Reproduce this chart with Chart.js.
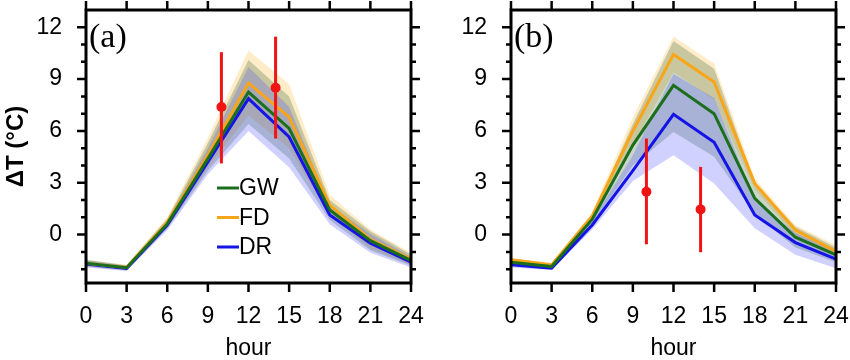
<!DOCTYPE html>
<html>
<head>
<meta charset="utf-8">
<script src="https://cdn.jsdelivr.net/npm/chart.js@4/dist/chart.umd.min.js"></script>
<style>
  body { margin: 0; background: #fff; }
  .panel { position: absolute; top: 0; width: 425px; height: 360px; }
</style>
</head>
<body>
<div class="panel" style="left:0"><canvas id="chartA" width="425" height="360"></canvas></div>
<div class="panel" style="left:425px"><canvas id="chartB" width="425" height="360"></canvas></div>
<script>
const hours = [0, 3, 6, 9, 12, 15, 18, 21, 24];
const yTicks = [0, 3, 6, 9, 12];
const yMinor = [-2, -1, 1, 2, 4, 5, 7, 8, 10, 11];
const names = ['GW', 'FD', 'DR'];

// panel (a)
const gwA   = [-1.65, -1.92, 0.62, 4.4, 8.25, 6.15, 1.43, -0.35, -1.5];
const fdA   = [-1.65, -1.9, 0.72, 4.6, 8.77, 6.8, 1.71, -0.27, -1.42];
const drA   = [-1.7, -1.95, 0.55, 4.2, 7.87, 5.65, 1.14, -0.5, -1.6];
const gwHiA = [-1.45, -1.77, 0.92, 5.3, 10.1, 8.0, 2.0, 0.2, -1.15];
const gwLoA = [-1.85, -2.07, 0.35, 3.7, 6.4, 4.4, 0.85, -0.9, -1.8];
const fdHiA = [-1.45, -1.75, 1.0, 5.6, 10.65, 8.7, 2.3, 0.3, -1.07];
const fdLoA = [-1.85, -2.05, 0.45, 3.9, 6.9, 5.0, 1.1, -0.8, -1.75];
const drHiA = [-1.5, -1.8, 0.85, 5.0, 9.7, 7.4, 1.7, 0.05, -1.3];
const drLoA = [-1.9, -2.1, 0.25, 3.5, 6.0, 3.9, 0.6, -1.05, -1.9];

// panel (b)
const gwB   = [-1.6, -1.85, 0.89, 5.18, 8.64, 7.0, 2.1, -0.15, -1.17];
const fdB   = [-1.46, -1.75, 1.08, 6.0, 10.43, 8.83, 2.96, 0.27, -0.98];
const drB   = [-1.75, -1.94, 0.56, 3.7, 6.96, 5.35, 1.14, -0.46, -1.42];
const gwHiB = [-1.45, -1.75, 1.1, 6.4, 11.2, 9.6, 3.0, 0.45, -0.75];
const gwLoB = [-1.75, -1.95, 0.65, 4.0, 5.94, 4.5, 1.2, -0.75, -1.6];
const fdHiB = [-1.35, -1.65, 1.3, 6.8, 11.47, 9.9, 3.25, 0.56, -0.6];
const fdLoB = [-1.6, -1.85, 0.85, 5.2, 9.4, 7.8, 2.6, -0.05, -1.3];
const drHiB = [-1.6, -1.85, 0.8, 4.6, 9.3, 7.9, 2.0, 0.1, -1.0];
const drLoB = [-1.9, -2.05, 0.3, 3.1, 4.6, 2.96, 0.37, -1.17, -1.94];

// observations (red dots with bars)
const obsHours = [10, 14];
const obsA   = [7.39, 8.5];
const obsLoA = [4.12, 5.56];
const obsHiA = [10.56, 11.46];
const obsB   = [2.48, 1.46];
const obsLoB = [-0.56, -1.02];
const obsHiB = [5.56, 3.92];

const lineColors = { GW: '#1b6e1b', FD: '#f9a51a', DR: '#1414e6' };
const bandColors = { GW: 'rgba(40,90,40,0.25)', FD: 'rgba(255,180,40,0.25)', DR: 'rgba(70,70,255,0.25)' };
const red = '#f01414';

function pts(ys) {
  return hours.map((h, i) => ({ x: h, y: ys[i] }));
}

function noPad(s) {
  s.paddingTop = 0; s.paddingBottom = 0; s.paddingLeft = 0; s.paddingRight = 0;
}

// frame, outward ticks, panel letter and legend
const framePlugin = {
  id: 'frame',
  afterDraw(chart) {
    const { ctx, chartArea: a, scales: { x, y } } = chart;
    ctx.save();
    ctx.strokeStyle = '#000';
    ctx.lineWidth = 2.5;
    ctx.beginPath();
    hours.forEach(h => {
      const px = x.getPixelForValue(h);
      ctx.moveTo(px, a.top); ctx.lineTo(px, a.top - 9);
      ctx.moveTo(px, a.bottom); ctx.lineTo(px, a.bottom + 9);
    });
    yTicks.forEach(v => {
      const py = y.getPixelForValue(v);
      ctx.moveTo(a.left, py); ctx.lineTo(a.left - 9, py);
      ctx.moveTo(a.right, py); ctx.lineTo(a.right + 9, py);
    });
    yMinor.forEach(v => {
      const py = y.getPixelForValue(v);
      ctx.moveTo(a.left, py); ctx.lineTo(a.left - 5, py);
      ctx.moveTo(a.right, py); ctx.lineTo(a.right + 5, py);
    });
    ctx.stroke();
    ctx.lineWidth = 3;
    ctx.strokeRect(a.left, a.top, a.right - a.left, a.bottom - a.top);
    ctx.fillStyle = '#000';
    ctx.font = '34px "Liberation Serif"';
    ctx.textBaseline = 'middle';
    ctx.fillText(chart.options.plugins.frame.tag, a.left + 3, a.top + 28);
    if (chart.options.plugins.frame.legend) {
      ctx.font = '23px "Liberation Sans"';
      ctx.lineWidth = 3;
      names.forEach((n, i) => {
        const ly = 188 + i * 29.5;
        ctx.strokeStyle = lineColors[n];
        ctx.beginPath(); ctx.moveTo(217, ly); ctx.lineTo(239, ly); ctx.stroke();
        ctx.fillText(n, 239, ly + 1);
      });
    }
    ctx.restore();
  }
};

function makeChart(id, tag, series, bands, obs, obsLo, obsHi, showLegend, showYTitle) {
  const datasets = [];
  obsHours.forEach((h, i) => {
    datasets.push({ data: [{ x: h, y: obsLo[i] }, { x: h, y: obsHi[i] }],
      borderColor: red, borderWidth: 3, pointRadius: 0, fill: false });
  });
  datasets.push({ data: obsHours.map((h, i) => ({ x: h, y: obs[i] })), showLine: false,
    pointRadius: 5, pointBackgroundColor: red, pointBorderWidth: 0 });
  names.forEach(n => {
    datasets.push({ label: n, data: pts(series[n]), borderColor: lineColors[n],
      borderWidth: 3, pointRadius: 0, fill: false, tension: 0 });
  });
  ['DR', 'GW', 'FD'].forEach(n => {
    datasets.push({ data: pts(bands[n][0]), borderWidth: 0, pointRadius: 0,
      backgroundColor: bandColors[n], fill: '+1' });
    datasets.push({ data: pts(bands[n][1]), borderWidth: 0, pointRadius: 0, fill: false });
  });

  return new Chart(document.getElementById(id), {
    type: 'line',
    data: { datasets },
    options: {
      responsive: false,
      animation: false,
      layout: { padding: { top: 10, right: 14, left: 0, bottom: 0 } },
      plugins: { legend: { display: false }, tooltip: { enabled: false },
        frame: { tag, legend: showLegend } },
      scales: {
        x: {
          type: 'linear', min: 0, max: 24,
          afterBuildTicks: s => { s.ticks = hours.map(v => ({ value: v })); },
          afterFit: s => { s.height = 77; noPad(s); },
          grid: { display: false, drawTicks: false },
          border: { display: false },
          ticks: { color: '#000', padding: 20, font: { family: 'Liberation Sans', size: 23 }, maxRotation: 0 },
          title: { display: true, text: 'hour', color: '#000', padding: 0,
            font: { family: 'Liberation Sans', size: 23, lineHeight: 1 } }
        },
        y: {
          min: -2.8, max: 13,
          afterBuildTicks: s => { s.ticks = yTicks.map(v => ({ value: v })); },
          afterFit: s => { s.width = 86; noPad(s); },
          grid: { display: false, drawTicks: false },
          border: { display: false },
          ticks: { color: '#000', padding: 24, font: { family: 'Liberation Sans', size: 23 } },
          title: { display: showYTitle, text: 'ΔT (°C)', color: '#000', padding: { top: 2 },
            font: { family: 'Liberation Sans', size: 24, weight: 'bold' } }
        }
      }
    },
    plugins: [framePlugin]
  });
}

makeChart('chartA', '(a)', { GW: gwA, FD: fdA, DR: drA },
  { GW: [gwHiA, gwLoA], FD: [fdHiA, fdLoA], DR: [drHiA, drLoA] },
  obsA, obsLoA, obsHiA, true, true);
makeChart('chartB', '(b)', { GW: gwB, FD: fdB, DR: drB },
  { GW: [gwHiB, gwLoB], FD: [fdHiB, fdLoB], DR: [drHiB, drLoB] },
  obsB, obsLoB, obsHiB, false, false);
</script>
</body>
</html>
